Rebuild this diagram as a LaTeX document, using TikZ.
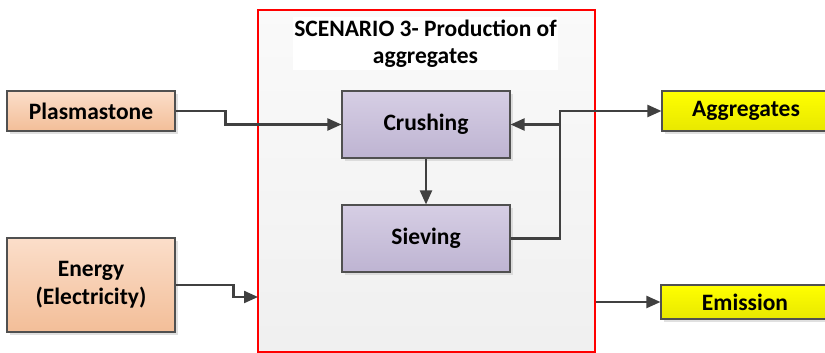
\documentclass[tikz,border=0pt]{standalone}
\usepackage{fontspec}
\setmainfont{Carlito}
\usetikzlibrary{arrows.meta,shadows}

\begin{document}
\begin{tikzpicture}[x=1pt,y=1pt,
  box/.style={draw=boxColor,line width=1.1pt,minimum width=168pt,align=center,
    font=\fontsize{23.5}{28}\selectfont\bfseries,
    drop shadow={shadow xshift=3pt,shadow yshift=-3pt,fill=black!20,opacity=0.6}},
  inbox/.style={box,top color=peachTop,bottom color=peachBot},
  procbox/.style={box,minimum height=67pt,top color=lilacTop,bottom color=lilacBot},
  outbox/.style={box,top color=yellowTop,bottom color=yellowBot},
  arr/.style={draw=lineColor,line width=2.2pt,-{Triangle[length=14pt,width=12pt]}}]
\definecolor{boxColor}{RGB}{80,80,80}
\definecolor{lineColor}{RGB}{64,64,64}
\definecolor{peachTop}{RGB}{251,222,202}
\definecolor{peachBot}{RGB}{243,190,152}
\definecolor{lilacTop}{RGB}{214,206,228}
\definecolor{lilacBot}{RGB}{190,180,210}
\definecolor{yellowTop}{RGB}{255,255,0}
\definecolor{yellowBot}{RGB}{232,232,0}
\definecolor{frameColor}{RGB}{255,0,0}
\path[use as bounding box,fill=white] (0,0) rectangle (825,353);

% scenario frame
\node[draw=frameColor,line width=1.6pt,top color=black!2,bottom color=black!6,
  minimum width=337pt,minimum height=342pt,inner sep=0pt] (scen) at (426.5,172) {};
\node[fill=white,minimum width=265pt,minimum height=53pt,inner sep=0pt,align=center,
  font=\fontsize{23.5}{27}\selectfont\bfseries] (title) at (425.5,309.5)
  {SCENARIO 3- Production of\\aggregates};

% inputs
\node[inbox,minimum height=40pt] (plasma) at (91,242) {Plasmastone};
\node[inbox,minimum height=94pt] (energy) at (91,68) {Energy\\(Electricity)};

% process steps
\node[procbox] (crush) at (426,228.5) {Crushing};
\node[procbox] (sieve) at (426,114.5) {Sieving};

% outputs
\node[outbox,minimum height=40pt] (aggr) at (746,242) {Aggregates};
\node[outbox,minimum height=34pt] (emis) at (745,51) {Emission};

\coordinate (split) at (560,228.5);
\coordinate (ein) at (258,56);

\draw[arr] (plasma.east) -- ++(50,0) |- (crush.west);
\draw[arr] (energy.east) -- ++(58,0) |- (ein);
\draw[arr] (crush.south) -- (sieve.north);
\draw[arr] (sieve.east) -| (split) |- (aggr.west);
\draw[arr] (split) -- (crush.east);
\draw[arr] (scen.east |- emis.west) -- (emis.west);
\end{tikzpicture}
\end{document}
